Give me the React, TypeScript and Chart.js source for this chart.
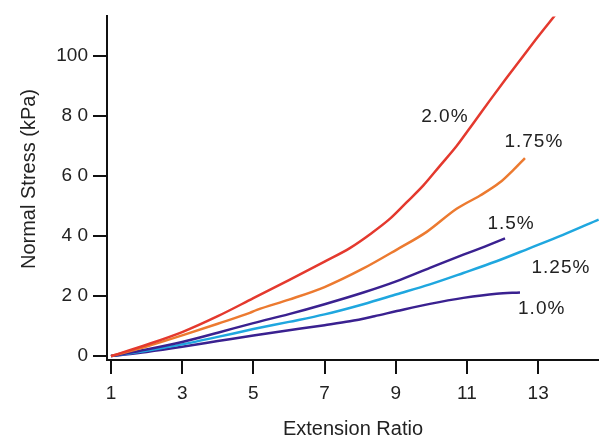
import React, { useEffect, useRef } from "react";
import { Chart, registerables } from "chart.js";
Chart.register(...registerables);

// ---- data ----
const seriesNames = ["2.0%", "1.75%", "1.5%", "1.25%", "1.0%"];
const seriesColors = ["#e4392e", "#ec7a30", "#3a2190", "#1fa7df", "#3a2190"];

const s20X = [1, 2, 3, 4, 5, 6, 7, 7.71, 8.3, 8.84, 9.31, 9.77, 10.24, 10.71, 11.18, 11.65, 12.1, 12.55, 13.0, 13.47];
const s20Y = [0, 3.8, 8.0, 13.3, 19.3, 25.3, 31.5, 36, 40.8, 45.8, 51.3, 56.8, 63.4, 70, 77.6, 85.3, 92.5, 99.5, 106.5, 113.5];

const s175X = [1, 2, 3, 4, 4.9, 5.1, 6, 7, 8.09, 9.03, 9.87, 10.71, 11.37, 11.93, 12.3, 12.63];
const s175Y = [0, 3.2, 6.9, 10.8, 14.4, 15.4, 18.8, 23.0, 29.2, 35.5, 41.4, 49.1, 53.5, 57.9, 62, 66];

const s15X = [1, 2, 3, 4, 5, 6, 7, 8.09, 9.03, 9.96, 10.9, 11.5, 12.07];
const s15Y = [0, 2.2, 4.7, 7.8, 11, 14, 17.3, 21.2, 25, 29.4, 33.8, 36.5, 39.2];

const s125X = [1, 2, 3, 4, 5, 6, 7, 8.09, 9.03, 9.96, 10.9, 11.83, 12.77, 13.7, 14.7];
const s125Y = [0, 1.8, 3.9, 6.4, 9.0, 11.4, 13.9, 17.3, 20.6, 23.9, 27.7, 31.6, 36, 40.4, 45.5];

const s10X = [1, 2, 3, 4, 5, 6, 7, 7.71, 8.4, 9.03, 9.96, 10.9, 11.83, 12.49];
const s10Y = [0, 1.4, 3.1, 5, 6.9, 8.6, 10.3, 11.6, 13.3, 15.0, 17.4, 19.4, 20.8, 21.2];

const seriesX = [s20X, s175X, s15X, s125X, s10X];
const seriesY = [s20Y, s175Y, s15Y, s125Y, s10Y];

const xTickValues = [1, 3, 5, 7, 9, 11, 13];
const xTickLabels = ["1", "3", "5", "7", "9", "11", "13"];
const yTickValues = [0, 20, 40, 60, 80, 100];
const yTickLabels = ["0", "2 0", "4 0", "6 0", "8 0", "100"];

// curve label anchors (data units)
const labelX = [10.38, 12.88, 12.24, 13.64, 13.1];
const labelY = [79.6, 71.4, 44, 29.6, 15.8];

const xTitle = "Extension Ratio";
const yTitle = "Normal Stress (kPa)";

const FONT = '"Liberation Sans", Arial, Helvetica, sans-serif';

const overlayPlugin = {
  id: "overlay",
  afterDraw(chart: any) {
    const ctx = chart.ctx as CanvasRenderingContext2D;
    const xs = chart.scales.x;
    const ys = chart.scales.y;
    ctx.save();
    ctx.fillStyle = "#222";
    ctx.font = `19px ${FONT}`;
    (ctx as any).letterSpacing = "1px";
    ctx.textAlign = "center";
    ctx.textBaseline = "middle";
    seriesNames.forEach((name, i) => {
      ctx.fillText(name, xs.getPixelForValue(labelX[i]), ys.getPixelForValue(labelY[i]));
    });
    (ctx as any).letterSpacing = "0px";
    ctx.font = `20px ${FONT}`;
    ctx.textBaseline = "alphabetic";
    ctx.fillText(xTitle, (xs.left + xs.right) / 2, 435);
    ctx.translate(34.5, 179);
    ctx.rotate(-Math.PI / 2);
    ctx.fillText(yTitle, 0, 0);
    ctx.restore();
  },
};

export default function App() {
  const ref = useRef<HTMLCanvasElement | null>(null);
  useEffect(() => {
    if (!ref.current) return;
    const chart = new Chart(ref.current, {
      type: "line",
      data: {
        datasets: seriesNames.map((name, i) => ({
          label: name,
          data: seriesX[i].map((x, j) => ({ x, y: seriesY[i][j] })),
          borderColor: seriesColors[i],
          backgroundColor: seriesColors[i],
          borderWidth: 2.5,
          pointRadius: 0,
          cubicInterpolationMode: "monotone" as const,
          fill: false,
        })),
      },
      options: {
        animation: false,
        responsive: false,
        devicePixelRatio: 1,
        layout: { padding: { top: 12, right: 0, left: 0, bottom: 0 } },
        plugins: { legend: { display: false }, tooltip: { enabled: false } },
        scales: {
          x: {
            type: "linear",
            min: 0.888,
            max: 14.71,
            afterBuildTicks: (s: any) => {
              s.ticks = xTickValues.map((v) => ({ value: v }));
            },
            afterFit: (s: any) => {
              s.height = 77;
            },
            grid: { drawOnChartArea: false, drawTicks: true, tickLength: 14, color: "#111", lineWidth: 2 },
            border: { display: true, color: "#111", width: 2 },
            ticks: {
              font: { family: FONT, size: 19 },
              color: "#222",
              padding: 8,
              maxRotation: 0,
              autoSkip: false,
              callback: (_v: any, i: number) => xTickLabels[i],
            },
          },
          y: {
            type: "linear",
            min: -1.3,
            max: 113.2,
            afterBuildTicks: (s: any) => {
              s.ticks = yTickValues.map((v) => ({ value: v }));
            },
            afterFit: (s: any) => {
              s.width = 107;
            },
            grid: { drawOnChartArea: false, drawTicks: true, tickLength: 14, color: "#111", lineWidth: 2 },
            border: { display: true, color: "#111", width: 2 },
            ticks: {
              font: { family: FONT, size: 19 },
              color: "#222",
              padding: 5,
              autoSkip: false,
              callback: (_v: any, i: number) => yTickLabels[i],
            },
          },
        },
      },
      plugins: [overlayPlugin],
    });
    return () => chart.destroy();
  }, []);
  return (
    <div style={{ position: "absolute", left: 0, top: 0, width: 599, height: 437, background: "#fff" }}>
      <canvas ref={ref} width={599} height={437} />
    </div>
  );
}
